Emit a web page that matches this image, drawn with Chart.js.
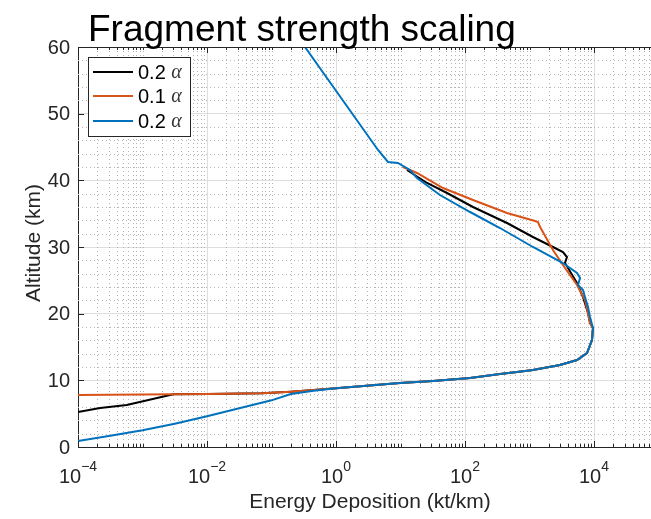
<!DOCTYPE html>
<html>
<head>
<meta charset="utf-8">
<script src="https://cdn.jsdelivr.net/npm/chart.js@4.4.1/dist/chart.umd.min.js"></script>
<style>
  html, body { margin: 0; padding: 0; background: #fff; overflow: hidden; }
  #wrap { width: 651px; height: 519px; overflow: hidden; }
  canvas { display: block; }
</style>
</head>
<body>
<div id="wrap"><canvas id="chart" width="680" height="519"></canvas></div>
<script>
// Values: energy deposition (kt/km) vs altitude (km)
const blackEnergy = [12.6, 25.8, 52.6, 133, 448, 1130, 2310, 3300, 3810, 3550, 5450, 6750, 8070, 8670, 9640, 9310, 7790, 5450, 2970, 1130, 640, 349, 120, 31.9, 9.8, 1.0, 0.2, 0.07, 0.01, 0.003, 5.7e-4, 2.2e-4, 1e-4];
const blackAlt = [41.55, 39.6, 38.1, 36.0, 33.6, 31.5, 30.0, 29.25, 28.5, 27.6, 24.6, 22.5, 20.1, 18.6, 17.85, 16.05, 14.1, 13.05, 12.3, 11.55, 11.25, 10.95, 10.35, 9.9, 9.6, 8.8, 8.3, 8.05, 7.95, 7.9, 6.3, 5.85, 5.25];

const orangeEnergy = [10.9, 18.0, 45.6, 133, 448, 1220, 1350, 1460, 2310, 3300, 5450, 7240, 8070, 8670, 9640, 9310, 7790, 5450, 2970, 1130, 640, 349, 120, 31.9, 9.8, 1.0, 0.2, 0.07, 0.01, 0.001, 1e-4];
const orangeAlt = [42.0, 41.1, 38.85, 37.05, 35.1, 33.9, 33.75, 33.0, 29.55, 27.3, 24.3, 22.05, 20.1, 18.6, 17.85, 16.05, 14.1, 13.05, 12.3, 11.55, 11.25, 10.95, 10.35, 9.9, 9.6, 8.8, 8.3, 8.05, 7.95, 7.87, 7.8];

const blueEnergy = [0.33, 4.48, 6.4, 9.1, 14.0, 18.0, 40.9, 120, 349, 1130, 3300, 5450, 6070, 5650, 6750, 7240, 8070, 8670, 9640, 9310, 7790, 5450, 2970, 1130, 640, 349, 120, 31.9, 9.8, 1.0, 0.45, 0.2, 0.1, 0.0316, 0.01, 0.00316, 0.001, 3.16e-4, 1e-4];
const blueAlt = [60, 44.55, 42.75, 42.6, 41.55, 40.35, 37.8, 35.25, 32.85, 30.0, 27.6, 26.1, 25.35, 24.3, 23.55, 22.5, 21.0, 19.5, 17.85, 16.05, 14.1, 13.05, 12.3, 11.55, 11.25, 10.95, 10.35, 9.9, 9.6, 8.8, 8.45, 7.95, 7.0, 5.8, 4.6, 3.5, 2.5, 1.7, 0.9];

const seriesNames = ["0.2", "0.1", "0.2"];
const seriesColors = ["#000000", "#D95319", "#0072BD"];

const xTickExps = [-4, -2, 0, 2, 4];
const yTicks = [0, 10, 20, 30, 40, 50, 60];

const FONT = "'Liberation Sans', Arial, Helvetica, sans-serif";
const TEXT = "#262626";

function toPoints(xs, ys) {
  return xs.map((x, i) => ({ x: x, y: ys[i] }));
}

// MATLAB-ish decorations: dotted minor grid, inward ticks, labels, legend, title
const decor = {
  id: "decor",
  beforeDatasetsDraw(chart) {
    const { ctx, chartArea: a, scales: { x, y } } = chart;
    ctx.save();
    ctx.strokeStyle = "#b4b4b4";
    ctx.lineWidth = 1;
    ctx.setLineDash([1, 3]);
    ctx.beginPath();
    for (let k = -4; k <= 4; k++) {
      for (let m = 1; m <= 9; m++) {
        if (m === 1 && k % 2 === 0) continue;
        const px = Math.round(x.getPixelForValue(m * Math.pow(10, k))) + 0.5;
        ctx.moveTo(px, a.top);
        ctx.lineTo(px, a.bottom);
      }
    }
    for (let v = 2; v < 60; v += 2) {
      if (v % 10 === 0) continue;
      const py = Math.round(y.getPixelForValue(v)) + 0.5;
      ctx.moveTo(a.left, py);
      ctx.lineTo(a.right, py);
    }
    ctx.stroke();
    ctx.restore();
  },
  afterDraw(chart) {
    const { ctx, chartArea: a, scales: { x, y } } = chart;
    ctx.save();

    // top box edge and inward ticks
    ctx.strokeStyle = TEXT;
    ctx.lineWidth = 1;
    ctx.beginPath();
    ctx.moveTo(a.left, Math.round(a.top) + 0.5);
    ctx.lineTo(a.right, Math.round(a.top) + 0.5);
    for (let k = -4; k <= 4; k++) {
      for (let m = 1; m <= 9; m++) {
        const px = Math.round(x.getPixelForValue(m * Math.pow(10, k))) + 0.5;
        const len = (m === 1 && k % 2 === 0) ? 6 : 3;
        ctx.moveTo(px, a.bottom); ctx.lineTo(px, a.bottom - len);
        ctx.moveTo(px, a.top); ctx.lineTo(px, a.top + len);
      }
    }
    yTicks.forEach(v => {
      const py = Math.round(y.getPixelForValue(v)) + 0.5;
      ctx.moveTo(a.left, py); ctx.lineTo(a.left + 6, py);
    });
    ctx.stroke();

    // y tick labels
    ctx.fillStyle = TEXT;
    ctx.font = "20px " + FONT;
    ctx.textAlign = "right";
    ctx.textBaseline = "middle";
    yTicks.forEach(v => {
      ctx.fillText(String(v), a.left - 8, y.getPixelForValue(v) + 1);
    });

    // x tick labels with superscript exponents
    ctx.textBaseline = "alphabetic";
    ctx.textAlign = "left";
    xTickExps.forEach(e => {
      const px = x.getPixelForValue(Math.pow(10, e));
      ctx.font = "20px " + FONT;
      const wb = ctx.measureText("10").width;
      ctx.font = "14px " + FONT;
      const es = String(e).replace("-", "\u2212");
      const we = ctx.measureText(es).width;
      const x0 = px - (wb + we) / 2;
      ctx.font = "20px " + FONT;
      ctx.fillText("10", x0, a.bottom + 36);
      ctx.font = "14px " + FONT;
      ctx.fillText(es, x0 + wb, a.bottom + 24);
    });

    // axis titles
    ctx.font = "21px " + FONT;
    ctx.textAlign = "center";
    ctx.fillText("Energy Deposition (kt/km)", 370, 508);
    ctx.save();
    ctx.translate(40, 243);
    ctx.rotate(-Math.PI / 2);
    ctx.fillText("Altitude (km)", 0, 0);
    ctx.restore();

    // title
    ctx.fillStyle = "#000";
    ctx.font = "37px " + FONT;
    ctx.textAlign = "left";
    ctx.fillText("Fragment strength scaling", 88, 41);

    // legend
    const lx = 88.5, ly = 57.5, lw = 102, lh = 79;
    ctx.fillStyle = "#fff";
    ctx.fillRect(lx, ly, lw, lh);
    ctx.strokeStyle = TEXT;
    ctx.lineWidth = 1;
    ctx.strokeRect(lx, ly, lw, lh);
    const rows = [72, 96, 121];
    seriesNames.forEach((name, i) => {
      ctx.strokeStyle = seriesColors[i];
      ctx.lineWidth = 2;
      ctx.beginPath();
      ctx.moveTo(93, rows[i]);
      ctx.lineTo(133, rows[i]);
      ctx.stroke();
      ctx.fillStyle = "#000";
      ctx.font = "20px " + FONT;
      ctx.textAlign = "left";
      ctx.textBaseline = "middle";
      ctx.fillText(name, 138, rows[i] + 1);
      const w = ctx.measureText(name + " ").width;
      ctx.fillStyle = "#333";
      ctx.font = "italic 20px 'Liberation Serif', 'DejaVu Serif', serif";
      ctx.fillText("\u03b1", 138 + w, rows[i] + 1);
    });

    ctx.restore();
  }
};

// higher "order" is drawn first, so blue ends up on top as in the figure
const datasets = [
  { label: seriesNames[0], data: toPoints(blackEnergy, blackAlt), borderColor: seriesColors[0], order: 3 },
  { label: seriesNames[1], data: toPoints(orangeEnergy, orangeAlt), borderColor: seriesColors[1], order: 2 },
  { label: seriesNames[2], data: toPoints(blueEnergy, blueAlt), borderColor: seriesColors[2], order: 1 }
].map(d => Object.assign(d, {
  showLine: true, borderWidth: 2, pointRadius: 0, tension: 0, fill: false
}));

new Chart(document.getElementById("chart").getContext("2d"), {
  type: "scatter",
  data: { datasets },
  options: {
    responsive: false,
    animation: false,
    layout: { padding: { left: 78, top: 47, right: 21.5, bottom: 72 } },
    plugins: { legend: { display: false }, tooltip: { enabled: false } },
    scales: {
      x: {
        type: "logarithmic",
        min: 1e-4,
        max: 1e5,
        afterBuildTicks: s => { s.ticks = xTickExps.map(e => ({ value: Math.pow(10, e) })); },
        afterFit: s => { s.height = 0; },
        ticks: { display: false },
        grid: { color: "#dedede", drawTicks: false },
        border: { color: TEXT, width: 1 }
      },
      y: {
        min: 0,
        max: 60,
        afterBuildTicks: s => { s.ticks = yTicks.map(v => ({ value: v })); },
        afterFit: s => { s.width = 0; },
        ticks: { display: false },
        grid: { color: "#dedede", drawTicks: false },
        border: { color: TEXT, width: 1 }
      }
    }
  },
  plugins: [decor]
});
</script>
</body>
</html>
